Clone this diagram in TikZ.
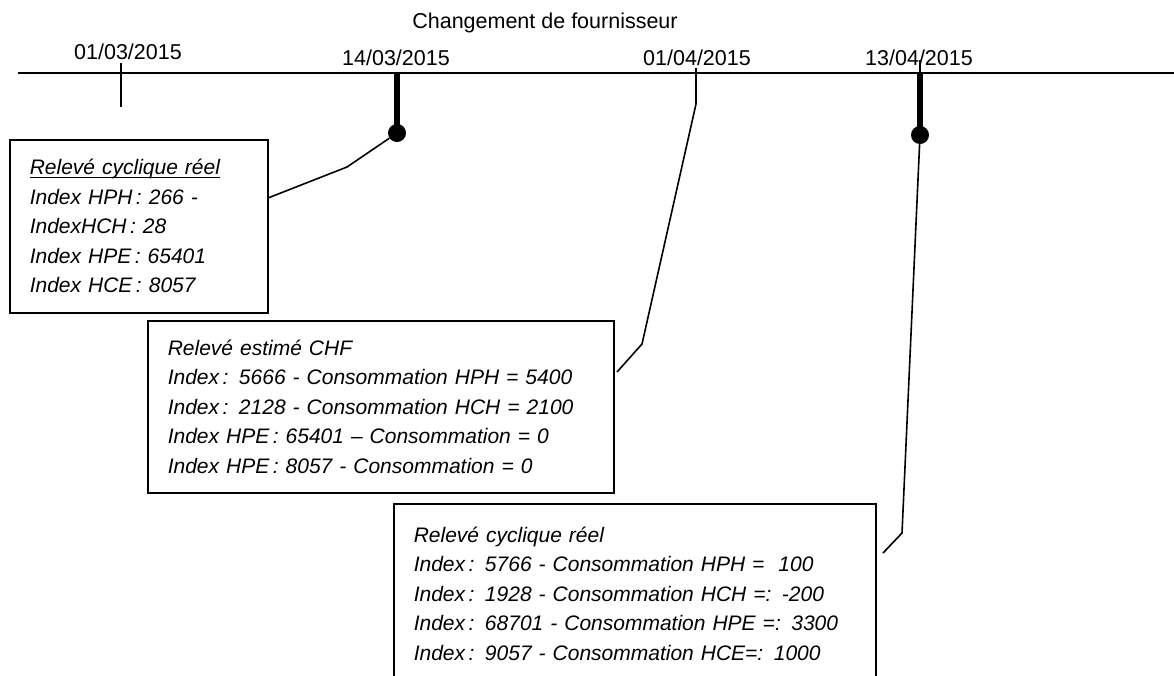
\documentclass[tikz,border=0pt]{standalone}
\usepackage{fontspec}
\setmainfont{Liberation Sans}
\newcommand{\soulign}[1]{\setbox0\hbox{#1}\rlap{\rule[-3.5pt]{\wd0}{1.3pt}}\box0}
\begin{document}
\begin{tikzpicture}[x=1pt, y=-1pt,
  releve/.style = {draw, line width=1.6pt, rectangle, align=left, inner xsep=20pt, inner ysep=0pt, anchor=north west, font=\fontsize{21}{29.5}\selectfont\itshape},
  date/.style = {anchor=base, inner sep=0pt, font=\fontsize{21.5}{25}\selectfont},
  tick/.style = {line width=2.2pt},
  gros/.style = {line width=6pt},
  bout/.style = {circle, fill, inner sep=0pt, minimum size=18pt},
  lien/.style = {line width=1.6pt}]
  \clip (0,0) rectangle (1174,675);

  % titre et dates
  \node[date] (titre) at (545,28) {Changement de fournisseur};
  \node[date] (d1) at (128,59) {01/03/2015};
  \node[date] (d2) at (396,65) {14/03/2015};
  \node[date] (d3) at (697,65) {01/04/2015};
  \node[date] (d4) at (919,65) {13/04/2015};

  % axe du temps
  \coordinate (g) at (18,73);
  \coordinate (d) at (1174,73);
  \draw[line width=2pt] (g) -- (d);

  % releves
  \node[releve, text width=218pt, minimum height=173pt] (r1) at (9,139)
    {\soulign{Relevé cyclique réel}\\ Index HPH\,: 266 -\\ IndexHCH\,: 28\\ Index HPE\,: 65401\\ Index HCE\,: 8057};
  \node[releve, text width=426pt, minimum height=172pt] (r2) at (147,320)
    {Relevé estimé CHF\\ Index\,: 5666 - Consommation HPH = 5400\\ Index\,: 2128 - Consommation HCH = 2100\\ Index HPE\,: 65401 -- Consommation = 0\\ Index HPE\,: 8057 - Consommation = 0};
  \node[releve, text width=442pt, minimum height=180pt] (r3) at (393,503)
    {Relevé cyclique réel\\ Index\,: 5766 - Consommation HPH =~~100\\ Index\,: 1928 - Consommation HCH =: -200\\ Index\,: 68701 - Consommation HPE =: 3300\\ Index\,: 9057 - Consommation HCE=: 1000};

  % traits
  \coordinate (t1h) at (121,63);
  \coordinate (t1b) at (121,107);
  \draw[tick] (t1h) -- (t1b);

  \coordinate (t2) at (397,72);
  \node[bout] (c2) at (397,133) {};
  \draw[gros] (t2) -- (c2.center);
  \coordinate (k2) at (347,167);
  \coordinate (e2) at (268,198);
  \draw[lien] (c2) -- (k2) -- (e2);

  \coordinate (t3h) at (696,68);
  \coordinate (t3b) at (696,104);
  \coordinate (k3) at (642,344);
  \coordinate (e3) at (617,372);
  \draw[lien] (t3h) -- (t3b) -- (k3) -- (e3);

  \coordinate (t4h) at (920,60);
  \coordinate (t4) at (920,73);
  \node[bout] (c4) at (920,135) {};
  \draw[tick] (t4h) -- (t4);
  \draw[gros] (t4) -- (c4.center);
  \coordinate (k4) at (902,533);
  \coordinate (e4) at (883,553);
  \draw[lien] (c4) -- (k4) -- (e4);
\end{tikzpicture}
\end{document}
